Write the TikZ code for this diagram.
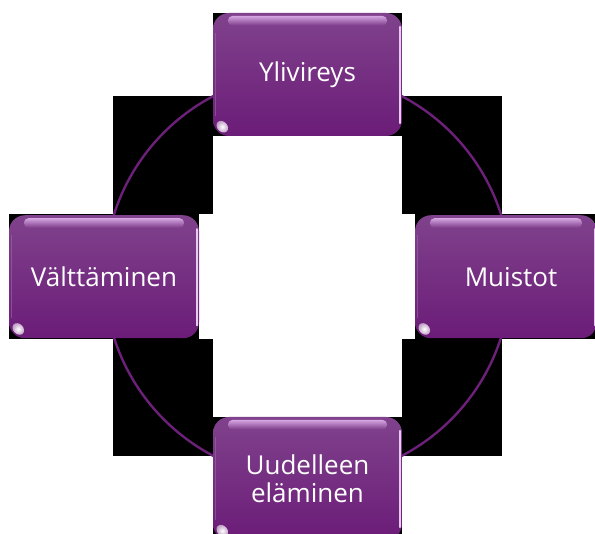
\documentclass[tikz,border=0pt]{standalone}
\usepackage{fontspec}
\setmainfont{Open Sans}
\definecolor{ptop}{RGB}{128,66,140}
\definecolor{pbot}{RGB}{107,28,120}
\definecolor{pmid}{RGB}{122,56,134}
\definecolor{hl}{RGB}{214,166,226}
\definecolor{hledge}{RGB}{232,204,240}
\definecolor{ring}{RGB}{108,32,122}
\newcommand\glossy[1]{%
  \shade[top color=hl, bottom color=pmid, rounded corners=5pt]
    ([xshift=15pt,yshift=-3pt]#1.north west) rectangle ([xshift=-15pt,yshift=-13pt]#1.north east);
  \draw[hledge, line width=1.6pt, line cap=round]
    ([xshift=-2.5pt,yshift=-14pt]#1.north east) -- ([xshift=-2.5pt,yshift=13pt]#1.south east);
  \draw[pmid!70!white, line width=1.2pt, opacity=.5]
    ([xshift=3pt,yshift=-20pt]#1.north west) -- ([xshift=3pt,yshift=20pt]#1.south west);
  \shade[inner color=white, outer color=white!55!pbot]
    ([xshift=9.5pt,yshift=9.5pt]#1.south west) circle [x radius=5pt, y radius=6.5pt, rotate=45];
}
\begin{document}
\begin{tikzpicture}[x=1pt,y=-1pt,
  pbox/.style={rounded corners=16pt, minimum width=190pt, minimum height=123pt,
    inner sep=0pt, align=center, text=white,
    font=\fontsize{26}{28}\selectfont, top color=ptop, bottom color=pbot},
  ringline/.style={draw=ring, line width=2.4pt}]
\useasboundingbox (0,0) rectangle (595,534);
\clip (0,0) rectangle (595,534);
\fill[white] (0,0) rectangle (595,534);
% dark backdrop
\fill[black] (113,96) rectangle (502,456);
\fill[black] (213,13) rectangle (402,136);
\fill[black] (9,214.5) rectangle (199,339);
\fill[black] (415,214.5) rectangle (597,339);
\fill[black] (213,417) rectangle (402,540);
\fill[white] (213,136) rectangle (402,417);
\fill[white] (199,214.5) rectangle (415,339);
% ring
\coordinate (c) at (307.5,276);
\draw[ringline] (c) circle[radius=203];
% boxes
\node[pbox, minimum width=189pt] (top) at (307.5,74.5) {Ylivireys};
\node[pbox] (left) at (104,276.75) {Välttäminen};
\node[pbox, minimum width=182pt] (right) at (506,276.75) {\hspace*{10pt}Muistot};
\node[pbox, minimum width=189pt] (bottom) at (307.5,478.5) {Uudelleen\\eläminen};
\glossy{top}
\glossy{left}
\glossy{right}
\glossy{bottom}
\end{tikzpicture}
\end{document}
